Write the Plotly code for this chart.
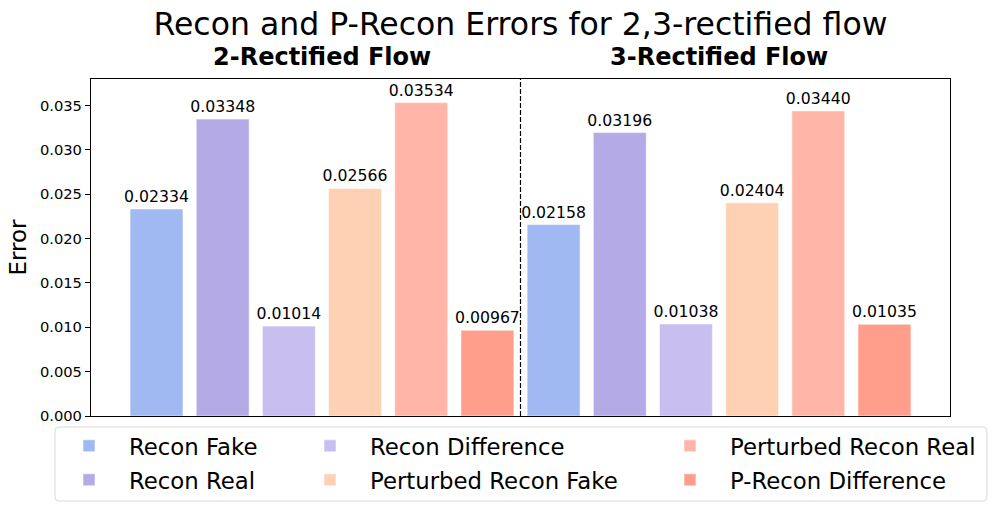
import plotly.graph_objects as go

groups = ["2-Rectified Flow", "3-Rectified Flow"]
series = ["Recon Fake", "Recon Real", "Recon Difference",
          "Perturbed Recon Fake", "Perturbed Recon Real", "P-Recon Difference"]
recon_fake = [0.02334, 0.02158]
recon_real = [0.03348, 0.03196]
recon_diff = [0.01014, 0.01038]
p_recon_fake = [0.02566, 0.02404]
p_recon_real = [0.03534, 0.03440]
p_recon_diff = [0.00967, 0.01035]
values = [recon_fake, recon_real, recon_diff, p_recon_fake, p_recon_real, p_recon_diff]
colors = ["#A0B9F2", "#B4AAE6", "#C8BFF0", "#FFD1B4", "#FFB6A8", "#FF9E8A"]
y_ticks = [0.000, 0.005, 0.010, 0.015, 0.020, 0.025, 0.030, 0.035]

FONT = "DejaVu Sans"
n_s = len(series)
n_g = len(groups)

# figure geometry
W, H = 997, 512
ML, MR, MT, MB = 91, 47, 79, 96
pw = W - ML - MR
ph = H - MT - MB

def px_to_paper_x(px):
    return (px - ML) / pw

def px_to_paper_y(py):
    return (H - MB - py) / ph

fig = go.Figure()

# legend slots: column-wise fill (3 columns x 2 rows)
leg_text_x = [129, 370, 730]
leg_row_y = [446, 480]

legend_layouts = {}
for s in range(n_s):
    xs = [g * n_s + s for g in range(n_g)]
    lname = "legend" if s == 0 else f"legend{s + 1}"
    fig.add_trace(go.Bar(
        x=xs, y=values[s], name=series[s], width=0.8,
        marker=dict(color=colors[s], line=dict(color="rgba(255,255,255,0.55)", width=1)),
        text=[f"{v:.5f}" for v in values[s]],
        textposition="outside", constraintext="none", cliponaxis=False,
        textfont=dict(family=FONT, size=15.7, color="black"),
        legend=lname, showlegend=True,
    ))
    col, row = s // 2, s % 2
    legend_layouts[lname] = dict(
        x=px_to_paper_x(leg_text_x[col] - 80), xanchor="left",
        y=px_to_paper_y(leg_row_y[row]), yanchor="middle",
        bgcolor="rgba(0,0,0,0)", borderwidth=0, itemwidth=70,
        font=dict(family=FONT, size=22.8, color="black"),
        visible=True,
    )

# dashed separator between groups
sep = n_s - 0.5
fig.add_shape(type="line", xref="x", yref="paper", x0=sep, x1=sep, y0=0, y1=1,
              line=dict(color="black", width=1.2, dash="5px,2px"))

# legend frame (rounded)
x0, x1 = px_to_paper_x(55), px_to_paper_x(987)
y0, y1 = px_to_paper_y(501), px_to_paper_y(427)
rx, ry = 4 / pw, 4 / ph
path = (f"M{x0+rx},{y1} L{x1-rx},{y1} Q{x1},{y1} {x1},{y1-ry} "
        f"L{x1},{y0+ry} Q{x1},{y0} {x1-rx},{y0} L{x0+rx},{y0} "
        f"Q{x0},{y0} {x0},{y0+ry} L{x0},{y1-ry} Q{x0},{y1} {x0+rx},{y1} Z")
fig.add_shape(type="path", xref="paper", yref="paper", path=path,
              line=dict(color="#d9d9d9", width=1), layer="below")

# group labels
for g, name in enumerate(groups):
    fig.add_annotation(x=g * n_s + (n_s - 1) / 2, xref="x", y=1, yref="paper",
                       text=f"<b>{name}</b>", showarrow=False, yanchor="middle", yshift=22,
                       font=dict(family=FONT, size=24, color="black"))

xmin, xmax = -0.4, n_s * n_g - 1 + 0.4
pad = 0.05 * (xmax - xmin)

fig.update_layout(
    width=W, height=H, margin=dict(l=ML, r=MR, t=MT, b=MB, autoexpand=False),
    paper_bgcolor="white", plot_bgcolor="white",
    barmode="overlay", showlegend=True,
    font=dict(family=FONT, color="black"),
    title=dict(text="Recon and P-Recon Errors for 2,3-rectified flow",
               x=0.5, xref="paper", xanchor="center",
               y=1 - 24 / H, yref="container", yanchor="middle",
               font=dict(family=FONT, size=31.5, color="black")),
    xaxis=dict(range=[xmin - pad, xmax + pad], showticklabels=False, ticks="",
               showgrid=False, zeroline=False, showline=True, linecolor="black",
               linewidth=1.2, mirror=True),
    yaxis=dict(range=[0, 0.038], tickvals=y_ticks, tickformat=".3f",
               ticks="outside", ticklen=5, tickwidth=1, tickcolor="black",
               tickfont=dict(family=FONT, size=14.7, color="black"),
               showgrid=False, zeroline=False, showline=True, linecolor="black",
               linewidth=1.2, mirror=True,
               title=dict(text="Error", standoff=6,
                          font=dict(family=FONT, size=23, color="black"))),
    **legend_layouts,
)

fig.write_html("out.html", config={"displayModeBar": False},
               post_script="document.body.style.margin='0';")
